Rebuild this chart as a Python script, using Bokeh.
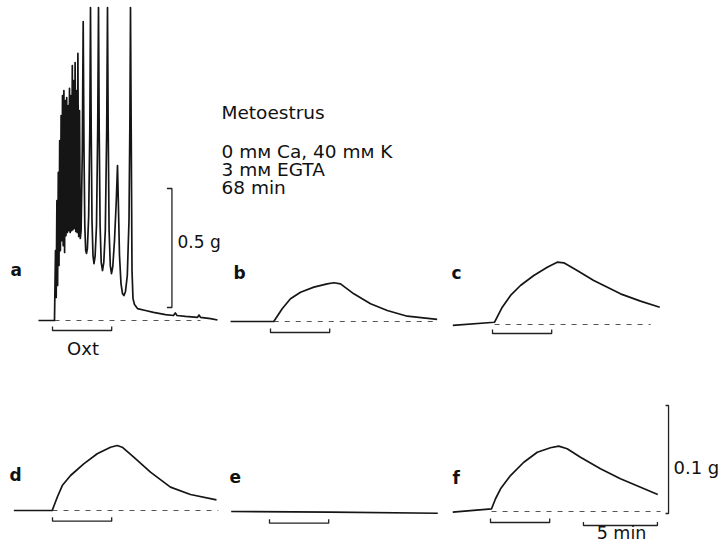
from bokeh.plotting import figure
from bokeh.models import Range1d
from bokeh.core.properties import value
from bokeh.embed import file_html
from bokeh.resources import INLINE

# ---------------- data (time in min from Oxt onset, force in g) ----------------
a_t = [-0.946, 0.135, 0.203, 0.250, 0.297, 0.345, 0.392, 0.439, 0.486, 0.534, 0.581, 0.628,
       0.676, 0.723, 0.770, 0.818, 0.865, 0.912, 0.959, 1.007, 1.054, 1.101, 1.149, 1.196,
       1.243, 1.291, 1.338, 1.385, 1.432, 1.480, 1.527, 1.574, 1.622, 1.669, 1.716, 1.770,
       1.824, 1.878, 1.932,
       2.014, 2.074, 2.128, 2.182, 2.243, 2.297, 2.358, 2.446, 2.520, 2.568,
       2.615, 2.669, 2.736, 2.804, 2.878, 2.973, 3.054, 3.108,
       3.155, 3.216, 3.291, 3.378, 3.466, 3.568, 3.662, 3.716,
       3.764, 3.824, 3.905, 3.986, 4.074, 4.189, 4.311, 4.392,
       4.446, 4.527, 4.628, 4.730, 4.831, 4.932, 5.054, 5.169, 5.230, 5.270,
       5.318, 5.372, 5.439, 5.541, 5.743, 6.284, 6.824, 7.635, 8.176, 8.297, 8.412,
       8.986, 9.797, 9.899, 10.0, 10.676, 11.149]
a_g = [0.0, 0.0, 0.294, 0.097, 0.504, 0.147, 0.622, 0.231, 0.756, 0.294, 0.861, 0.336,
       0.945, 0.315, 0.966, 0.286, 0.924, 0.357, 0.937, 0.370, 0.903, 0.378, 0.975, 0.370,
       0.945, 0.378, 1.071, 0.382, 1.008, 0.387, 1.084, 0.374, 0.966, 0.370, 1.122, 0.353,
       0.882, 0.345, 0.378,
       0.714, 1.256, 0.714, 0.399, 0.294, 0.282, 0.303, 0.441, 0.798, 1.315,
       0.798, 0.420, 0.273, 0.239, 0.269, 0.399, 0.798, 1.315,
       0.798, 0.399, 0.244, 0.210, 0.244, 0.378, 0.798, 1.315,
       0.798, 0.378, 0.231, 0.197, 0.227, 0.336, 0.504, 0.651,
       0.504, 0.273, 0.155, 0.113, 0.105, 0.122, 0.189, 0.420, 0.840, 1.315,
       0.798, 0.210, 0.092, 0.067, 0.050, 0.042, 0.034, 0.025, 0.021, 0.032, 0.021,
       0.017, 0.013, 0.023, 0.013, 0.008, 0.002]

b_t = [-2.70, 0.22, 0.79, 1.35, 2.03, 2.93, 3.83, 4.28, 4.73, 5.63, 6.76, 7.89, 9.24, 11.26]
b_g = [0.0, 0.0, 0.0118, 0.0210, 0.0271, 0.0318, 0.0349, 0.0359, 0.0349, 0.0256, 0.0164,
       0.0102, 0.0049, 0.0019]

c_t = [-2.68, 0.14, 0.66, 1.22, 1.89, 2.79, 3.70, 4.37, 4.82, 5.72, 6.84, 8.65, 10.0, 11.30]
c_g = [-0.0009, 0.0021, 0.0160, 0.0269, 0.0361, 0.0454, 0.0531, 0.0577, 0.0571, 0.0500,
       0.0407, 0.0284, 0.0216, 0.0160]

d_t = [-2.61, -0.02, 0.32, 0.66, 1.22, 2.11, 3.02, 3.92, 4.37, 4.71, 5.49, 6.62, 7.97, 9.32, 11.08]
d_g = [0.0, 0.0, 0.0123, 0.0231, 0.0324, 0.0432, 0.0525, 0.0586, 0.0602, 0.0586, 0.0494,
       0.0355, 0.0216, 0.0148, 0.0099]

e_t = [-2.59, 4.12, 11.37]
e_g = [0.0, -0.0006, -0.0016]

f_t = [-2.55, 0.07, 0.34, 0.68, 1.35, 2.25, 3.16, 4.05, 4.61, 5.18, 6.08, 7.43, 8.78, 10.14, 11.30]
f_g = [-0.0006, 0.0025, 0.0118, 0.0210, 0.0333, 0.0456, 0.0549, 0.0590, 0.0605, 0.0581,
       0.0503, 0.0395, 0.0303, 0.0225, 0.0157]

panels = ["a", "b", "c", "d", "e", "f"]
traces_t = {"a": a_t, "b": b_t, "c": c_t, "d": d_t, "e": e_t, "f": f_t}
traces_g = {"a": a_g, "b": b_g, "c": c_g, "d": d_g, "e": e_g, "f": f_g}

oxt_duration = 4.0                       # min
dash_end = {"a": 10.0, "b": 11.28, "c": 10.68, "d": 11.2, "f": 11.49}
dash_start = {"a": 0.135, "b": 0.22, "c": 0.14, "d": 0.0, "f": 0.07}

scale_big_g = 0.5
scale_small_g = 0.1
scale_time_min = 5.0

info_lines = ["Metoestrus", "0 m\u1d0d Ca, 40 m\u1d0d K", "3 m\u1d0d EGTA", "68 min"]

# ---------------- layout (pixels) ----------------
W, H = 726, 549
PX_PER_MIN = 14.8
origin_x = {"a": 52, "b": 270, "c": 492, "d": 52, "e": 269, "f": 490}
base_y = {"a": 320, "b": 321, "c": 324, "d": 510, "e": 511, "f": 511}
gain = {"a": 238.0, "b": 1080.0, "c": 1080.0, "d": 1080.0, "e": 1080.0, "f": 1080.0}
bracket_drop = {"a": 10, "b": 11, "c": 9, "d": 10.7, "e": 11.7, "f": 11}

p = figure(width=W, height=H, x_range=Range1d(0, W), y_range=Range1d(H, 0),
           output_backend="svg", toolbar_location=None, min_border=0,
           background_fill_color="white", border_fill_color="white")
p.axis.visible = False
p.xgrid.visible = False
p.ygrid.visible = False
p.outline_line_color = None

for k in panels:
    x0, b0, gk = origin_x[k], base_y[k], gain[k]
    p.extra_x_ranges[k] = Range1d(-x0 / PX_PER_MIN, (W - x0) / PX_PER_MIN)
    p.extra_y_ranges[k] = Range1d(-(H - b0) / gk, b0 / gk)

INK = "#151515"
BAR = "#222222"

for k in panels:
    gk = gain[k]
    if k in dash_end:
        p.line([dash_start[k], dash_end[k]], [0, 0], x_range_name=k, y_range_name=k,
               line_color="#555555", line_width=1.1, line_dash="5 6")
    p.line(traces_t[k], traces_g[k], x_range_name=k, y_range_name=k,
           line_color=INK, line_width=1.7, line_join="round")
    drop = bracket_drop[k] / gk
    tick = 4.0 / gk
    p.line([0, 0, oxt_duration, oxt_duration], [-drop + tick, -drop, -drop, -drop + tick],
           x_range_name=k, y_range_name=k, line_color=BAR, line_width=1.3)

# 0.5 g scale bar (panel a)
ga = gain["a"]
bar_a_t = 8.07
bar_a_low = 13 / ga
tk = 5 / PX_PER_MIN
p.line([bar_a_t - tk, bar_a_t, bar_a_t, bar_a_t - tk],
       [bar_a_low, bar_a_low, bar_a_low + scale_big_g, bar_a_low + scale_big_g],
       x_range_name="a", y_range_name="a", line_color=BAR, line_width=1.3)

# 0.1 g scale bar (panel f)
gf = gain["f"]
bar_f_t = 12.03
bar_f_low = -2 / gf
tk = 3 / PX_PER_MIN
p.line([bar_f_t - tk, bar_f_t, bar_f_t, bar_f_t - tk],
       [bar_f_low, bar_f_low, bar_f_low + scale_small_g, bar_f_low + scale_small_g],
       x_range_name="f", y_range_name="f", line_color=BAR, line_width=1.3)

# 5 min time bar (panel f)
t_start = 6.28
yb = -14 / gf
yt = -10.5 / gf
p.line([t_start, t_start, t_start + scale_time_min, t_start + scale_time_min], [yt, yb, yb, yt],
       x_range_name="f", y_range_name="f", line_color=BAR, line_width=1.3)

# ---------------- texts ----------------
FONT = "DejaVu Sans"
TXT = "#111111"
label_pos = {"a": (10, 269), "b": (233, 272), "c": (451, 272),
             "d": (9, 474), "e": (229, 476), "f": (452, 477)}
for k in panels:
    x, y = label_pos[k]
    p.text(x=[x], y=[y], text=[k], text_font=value(FONT), text_font_size="17px",
           text_font_style="bold", text_color=TXT,
           text_baseline="alphabetic", text_align="left")

info_y = [112, 151, 169, 187]
p.text(x=[221] * 4, y=info_y, text=info_lines, text_font=value(FONT), text_font_size="18.5px",
       text_color=TXT, text_baseline="alphabetic", text_align="left")

p.text(x=[177], y=[241], text=["0.5 g"], text_font=value(FONT), text_font_size="17px",
       text_color=TXT, text_baseline="alphabetic", text_align="left")
p.text(x=[673], y=[467], text=["0.1 g"], text_font=value(FONT), text_font_size="18px",
       text_color=TXT, text_baseline="alphabetic", text_align="left")
p.text(x=[621], y=[532], text=["5 min"], text_font=value(FONT), text_font_size="17.5px",
       text_color=TXT, text_baseline="middle", text_align="center")
p.text(x=[82.5], y=[348], text=["Oxt"], text_font=value(FONT), text_font_size="18px",
       text_color=TXT, text_baseline="alphabetic", text_align="center")

open("out.html", "w").write(file_html(p, INLINE))
